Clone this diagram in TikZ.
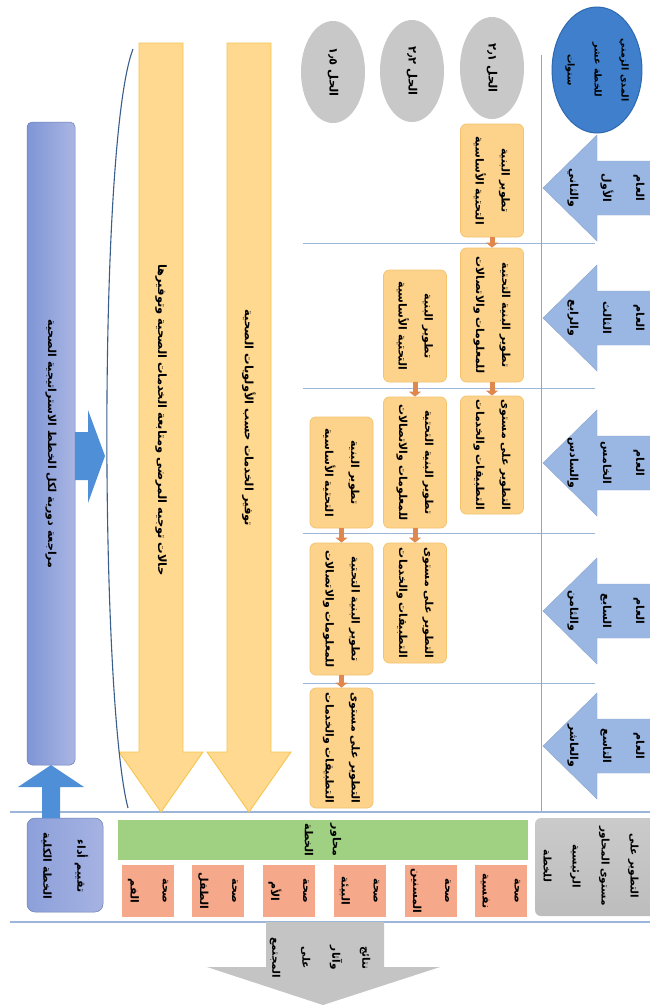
\documentclass[tikz,border=0pt]{standalone}
\usepackage{fontspec}
\usetikzlibrary{arrows.meta,shapes.geometric}
\TeXXeTstate=1
\newfontfamily\arfont[Script=Arabic]{DejaVu Sans}
\newcommand{\AR}[1]{{\arfont\bfseries\beginR #1\endR}}
\definecolor{lineblue}{HTML}{9DB5D9}
\definecolor{vlineblue}{HTML}{8FA6CC}
\definecolor{rowblue}{HTML}{9AB7E3}
\definecolor{circblue}{HTML}{3F7FCB}
\definecolor{circedge}{HTML}{2E68B0}
\definecolor{ellgray}{HTML}{C8C8C8}
\definecolor{ofill}{HTML}{FDD38C}
\definecolor{oedge}{HTML}{F4C36E}
\definecolor{conncol}{HTML}{E0874E}
\definecolor{barfill}{HTML}{FFD98F}
\definecolor{baredge}{HTML}{F6C650}
\definecolor{colL}{HTML}{7F95D6}
\definecolor{colR}{HTML}{AAB6E3}
\definecolor{arrblue}{HTML}{4F8FD8}
\definecolor{curvecol}{HTML}{3A5E8C}
\definecolor{greenfill}{HTML}{A0D081}
\definecolor{salmon}{HTML}{F6A98A}
\definecolor{boxgray}{HTML}{BDBDBD}
\definecolor{arrgray}{HTML}{C4C4C4}
\tikzset{
  artxt/.style={rotate=-90, align=center, inner sep=0pt, text=black, font=\fontsize{11}{#1}\selectfont},
  artxt/.default=26,
  obox/.style={rotate=-90, align=center, draw=oedge, fill=ofill, line width=0.8pt, rounded corners=6pt,
    minimum height=63pt, inner sep=1pt, font=\fontsize{11}{26}\selectfont},
  conn/.style={draw=conncol, line width=5pt, -{Triangle[length=5pt,width=12pt]}},
  sepline/.style={draw=lineblue, line width=0.9pt},
  longline/.style={draw=lineblue, line width=1.6pt},
  grayell/.style={ellipse, rotate=-90, fill=ellgray, minimum width=102pt, minimum height=64pt, inner sep=0pt,
    font=\fontsize{11.5}{26}\selectfont},
  salbox/.style={rotate=-90, align=center, fill=salmon, minimum width=52pt, minimum height=52pt, inner sep=0pt,
    font=\fontsize{11}{32}\selectfont},
  barpath/.style={fill=barfill, draw=baredge, line width=0.9pt},
  rowarr/.style={fill=rowblue, draw=rowblue!90!black, line width=0.4pt},
}
\newcommand{\rowarrow}[3]{%
  \path[rowarr] (543,#1) -- (597,#1-53) -- (597,#1-27) -- (660,#1-27) -- (660,#1+27) -- (597,#1+27) -- (597,#1+53) -- cycle;
  \node[artxt=33] (#2) at (606,#1) {#3};
}
\begin{document}
\begin{tikzpicture}[x=1pt,y=-1pt]
\useasboundingbox (0,0) rectangle (650,1005);
\fill[white] (0,0) rectangle (650,1005);

% separator lines
\draw[sepline] (303,243) -- (595,243);
\draw[sepline] (303,388) -- (595,388);
\draw[sepline] (303,533) -- (595,533);
\draw[sepline] (303,683) -- (595,683);
\draw[draw=vlineblue, line width=0.9pt] (541,55) -- (541,812);
\draw[longline] (10,812) -- (650,812);
\draw[longline] (10,922) -- (650,922);

% row arrows
\rowarrow{188}{r1}{\AR{العام}\\\AR{الأول}\\\AR{والثاني}}
\rowarrow{318}{r2}{\AR{العام}\\\AR{الثالث}\\\AR{والرابع}}
\rowarrow{463}{r3}{\AR{العام}\\\AR{الخامس}\\\AR{والسادس}}
\rowarrow{611}{r4}{\AR{العام}\\\AR{السابع}\\\AR{والثامن}}
\rowarrow{746}{r5}{\AR{العام}\\\AR{التاسع}\\\AR{والعاشر}}

% duration circle
\node[ellipse, rotate=-90, fill=circblue, draw=circedge, line width=1pt, minimum width=126pt, minimum height=86pt,
  inner sep=0pt, align=center, font=\fontsize{9.5}{27}\selectfont] (dur) at (597,70)
  {\AR{المدى الزمني}\\\AR{للخطة عشر}\\\AR{سنوات}};

% solution ellipses
\node[grayell] (s3) at (492,68) {\AR{الحل ٢٫١}};
\node[grayell] (s2) at (412,71) {\AR{الحل ٢٫٢}};
\node[grayell] (s1) at (333,72) {\AR{الحل ١٫٥}};

% orange boxes
\node[obox, minimum width=113pt] (A1) at (492,180.5) {\AR{تطوير البنية}\\\AR{التحتية الأساسية}};
\node[obox, minimum width=134pt] (A2) at (492,315) {\AR{تطوير البنية التحتية}\\\AR{للمعلومات والاتصالات}};
\node[obox, minimum width=118pt] (A3) at (492,455) {\AR{التطوير على مستوى}\\\AR{التطبيقات والخدمات}};
\node[obox, minimum width=112pt] (B2) at (415,326) {\AR{تطوير البنية}\\\AR{التحتية الأساسية}};
\node[obox, minimum width=131pt] (B3) at (415,462.5) {\AR{تطوير البنية التحتية}\\\AR{للمعلومات والاتصالات}};
\node[obox, minimum width=120pt] (B4) at (415,603) {\AR{التطوير على مستوى}\\\AR{التطبيقات والخدمات}};
\node[obox, minimum width=111pt] (C3) at (341.5,472.5) {\AR{تطوير البنية}\\\AR{التحتية الأساسية}};
\node[obox, minimum width=132pt] (C4) at (341.5,609) {\AR{تطوير البنية التحتية}\\\AR{للمعلومات والاتصالات}};
\node[obox, minimum width=120pt] (C5) at (341.5,748) {\AR{التطوير على مستوى}\\\AR{التطبيقات والخدمات}};

\draw[conn] (A1.east) -- (A2.west);
\draw[conn] (A2.east) -- (A3.west);
\draw[conn] (B2.east) -- (B3.west);
\draw[conn] (B3.east) -- (B4.west);
\draw[conn] (C3.east) -- (C4.west);
\draw[conn] (C4.east) -- (C5.west);

% tall bars
\path[barpath] (139,43) -- (183,43) -- (183,752) -- (203,752) -- (161,812) -- (119,752) -- (139,752) -- cycle;
\path[barpath] (227,43) -- (271,43) -- (271,752) -- (291,752) -- (249,812) -- (207,752) -- (227,752) -- cycle;
\node[artxt, font=\fontsize{11.5}{20}\selectfont] (bar1) at (161,420)
  {\AR{حالات توجيه المرضى ومتابعة الخدمات الصحية وتوفيرها}};
\node[artxt, font=\fontsize{11.5}{20}\selectfont] (bar2) at (249,418)
  {\AR{توفير الخدمات حسب الأولويات الصحية}};

% bracket curve
\coordinate (brtop) at (133,49);
\coordinate (brbot) at (128,808);
\draw[curvecol, line width=1.1pt] (brtop) .. controls (98,140) and (100,700) .. (brbot);

% review column
\shade[left color=colL, right color=colR, rounded corners=5pt] (27,122) rectangle (75,765);
\draw[colL!85!black, line width=0.5pt, rounded corners=5pt] (27,122) rectangle (75,765);
\node[artxt, font=\fontsize{11}{20}\selectfont] (review) at (51,444)
  {\AR{مراجعة دورية لكل الخطط الاستراتيجية الصحية}};
\fill[arrblue] (75,432) -- (88,432) -- (88,410) -- (105,456) -- (88,503) -- (88,480) -- (75,480) -- cycle;

% bottom row
\shade[left color=colL!90, right color=colR!90!colL, rounded corners=8pt] (27,818) rectangle (103,912);
\draw[colL!85!black, line width=0.5pt, rounded corners=8pt] (27,818) rectangle (103,912);
\node[artxt=34] (evalbox) at (65,866) {\AR{تقييم أداء}\\\AR{الخطة الكلية}};
\fill[arrblue] (42,818) -- (42,787) -- (18,787) -- (51,765) -- (84,787) -- (60,787) -- (60,818) -- cycle;

\node[rotate=-90, fill=greenfill, minimum width=40pt, minimum height=410pt, inner sep=0pt, align=center,
  font=\fontsize{11}{28}\selectfont] (axes) at (323,840) {\AR{محاور}\\\AR{الخطة}};

\node[salbox] (t1) at (148,891) {\AR{صحة}\\\AR{الفم}};
\node[salbox] (t2) at (218,891) {\AR{صحة}\\\AR{الطفل}};
\node[salbox] (t3) at (288.5,891) {\AR{صحة}\\\AR{الأم}};
\node[salbox] (t4) at (359.5,891) {\AR{صحة}\\\AR{البيئة}};
\node[salbox] (t5) at (430.5,891) {\AR{صحة}\\\AR{المسنين}};
\node[salbox] (t6) at (500.5,891) {\AR{صحة}\\\AR{نفسية}};

\shade[top color=boxgray!80, bottom color=boxgray, rounded corners=6pt] (535,818) rectangle (662,916);
\node[artxt=29, font=\fontsize{10.5}{29}\selectfont] (graybox) at (591,866) {\AR{التطوير على}\\\AR{مستوى المحاور}\\\AR{الرئيسية}\\\AR{للخطة}};

\fill[arrgray] (266,922) -- (384,922) -- (384,967) -- (440,967) -- (323,1005) -- (207,967) -- (266,967) -- cycle;
\node[artxt=30, font=\fontsize{10.5}{30}\selectfont] (outcome) at (320,958) {\AR{نتائج}\\\AR{وآثار}\\\AR{على}\\\AR{المجتمع}};
\end{tikzpicture}
\end{document}
